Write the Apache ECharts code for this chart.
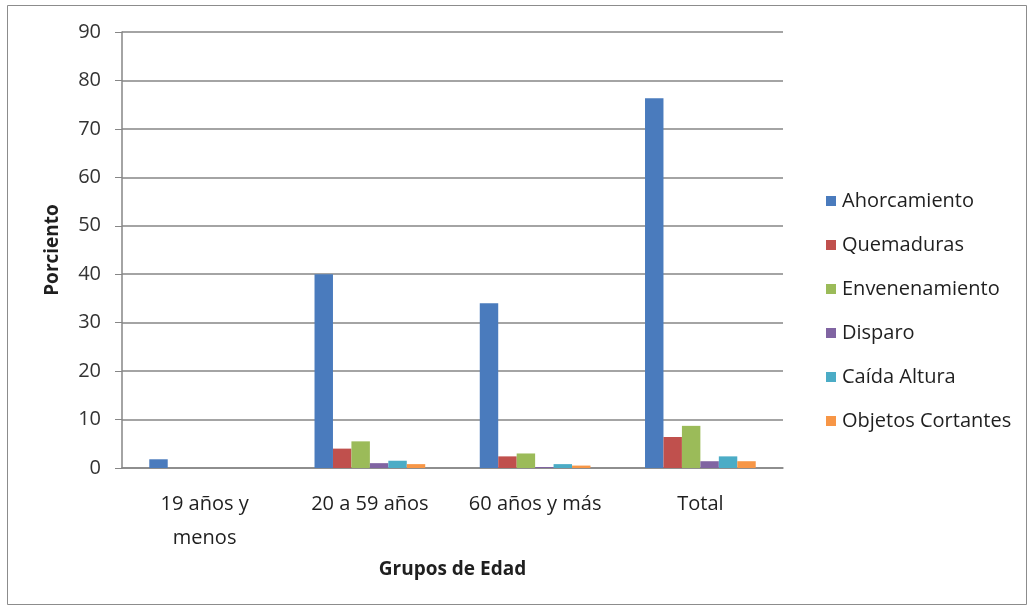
<!DOCTYPE html>
<html>
<head>
<meta charset="utf-8">
<script src="https://cdn.jsdelivr.net/npm/echarts@6/dist/echarts.min.js"></script>
<style>
html,body{margin:0;padding:0;background:#fff;}
#c{width:1034px;height:609px;}
</style>
</head>
<body>
<div id="c"></div>
<script>
var categories = ['19 años y\nmenos', '20 a 59 años', '60 años y más', 'Total'];
var seriesNames = ['Ahorcamiento', 'Quemaduras', 'Envenenamiento', 'Disparo', 'Caída Altura', 'Objetos Cortantes'];
var ahorcamiento = [1.8, 40, 34, 76.3];
var quemaduras = [0, 4.0, 2.4, 6.4];
var envenenamiento = [0, 5.5, 3.0, 8.7];
var disparo = [0, 1.0, 0.2, 1.4];
var caidaAltura = [0, 1.5, 0.8, 2.4];
var objetosCortantes = [0, 0.8, 0.5, 1.4];
var yTicks = [0, 10, 20, 30, 40, 50, 60, 70, 80, 90];

var values = [ahorcamiento, quemaduras, envenenamiento, disparo, caidaAltura, objetosCortantes];
var colors = ['#4A7BBD', '#C0504D', '#9BBB59', '#8064A2', '#4BACC6', '#F79646'];
var FONT = '"Open Sans", "Liberation Sans", sans-serif';

var chart = echarts.init(document.getElementById('c'), null, {renderer: 'canvas'});
chart.setOption({
  animation: false,
  backgroundColor: '#fff',
  color: colors,
  textStyle: {fontFamily: FONT},
  graphic: [{
    type: 'rect', silent: true, z: -1,
    shape: {x: 7.5, y: 5.5, width: 1019, height: 599},
    style: {fill: 'none', stroke: '#8c8c8c', lineWidth: 1}
  }],
  grid: {left: 122, top: 32, width: 661, height: 436, containLabel: false},
  legend: {
    orient: 'vertical',
    left: 821, top: 186,
    itemWidth: 10, itemHeight: 10,
    itemGap: 24,
    icon: 'rect',
    textStyle: {fontFamily: FONT, fontSize: 20, color: '#1f1f1f', lineHeight: 20, padding: [0,0,0,1]},
    data: seriesNames
  },
  xAxis: {
    type: 'category',
    data: categories,
    name: 'Grupos de Edad',
    nameLocation: 'middle',
    nameGap: 86,
    nameTextStyle: {fontFamily: FONT, fontSize: 19, fontWeight: 'bold', color: '#1f1f1f'},
    axisLine: {lineStyle: {color: '#868686', width: 1.5}},
    axisTick: {show: false},
    axisLabel: {fontFamily: FONT, fontSize: 20, color: '#1f1f1f', margin: 19, lineHeight: 34, interval: 0}
  },
  yAxis: {
    type: 'value',
    min: 0, max: 90, interval: 10,
    name: 'Porciento',
    nameLocation: 'middle',
    nameGap: 60,
    nameRotate: 90,
    nameTextStyle: {fontFamily: FONT, fontSize: 19, fontWeight: 'bold', color: '#1f1f1f'},
    axisLine: {show: true, lineStyle: {color: '#868686', width: 1.5}},
    axisTick: {show: true, length: 7, lineStyle: {color: '#868686'}},
    axisLabel: {fontFamily: FONT, fontSize: 20, color: '#333333', margin: 21,
      formatter: function (v) { return yTicks.indexOf(v) >= 0 ? String(v) : ''; }},
    splitLine: {lineStyle: {color: '#868686', width: 1.5}}
  },
  series: seriesNames.map(function (n, i) {
    return {
      name: n, type: 'bar', data: values[i],
      barGap: '0%', barCategoryGap: '33%',
      itemStyle: {color: colors[i]}
    };
  })
});
</script>
</body>
</html>
